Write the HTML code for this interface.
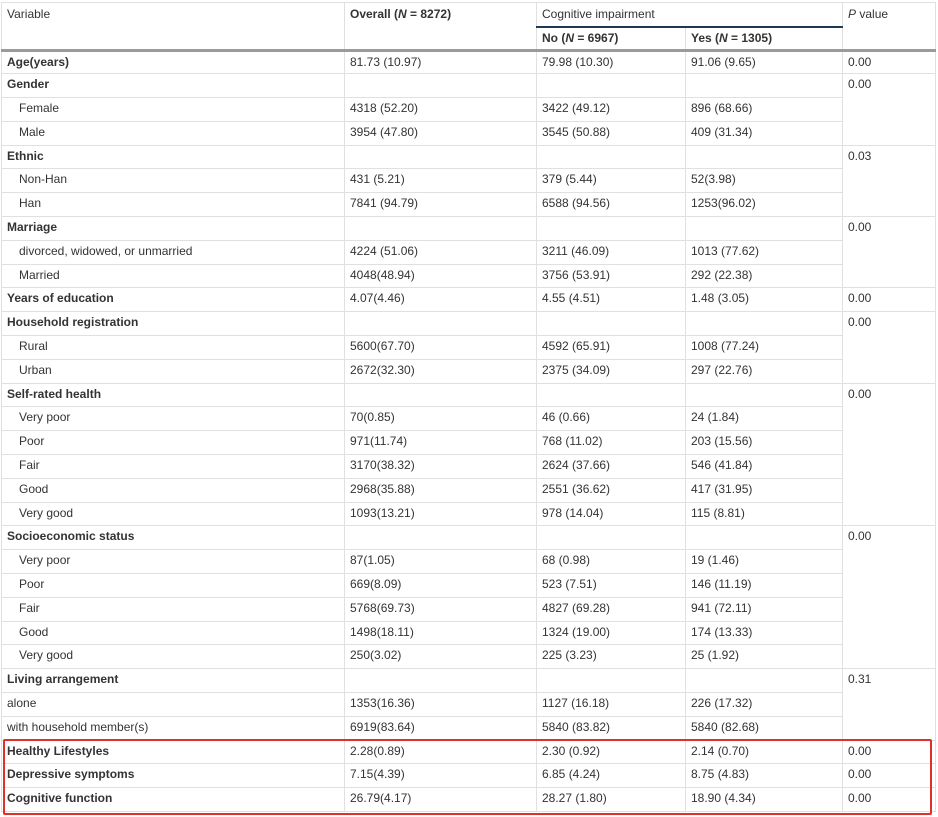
<!DOCTYPE html>
<html><head><meta charset="utf-8"><style>
body{margin:0;background:#fff;width:938px;height:817px;overflow:hidden;position:relative;font-family:"Liberation Sans",Arial,sans-serif;font-size:12px;color:#333}
table{position:absolute;left:1px;top:2px;border-collapse:collapse;table-layout:fixed;width:934px;border:1px solid #d4d4d4;border-bottom:none}
td,th{border:1px solid #e0e0e0;padding:0 0 0 5px;text-align:left;vertical-align:top;white-space:nowrap;overflow:hidden;line-height:23px;box-sizing:border-box}
th{font-weight:normal}
thead tr.h1 th{height:24px;line-height:22px}
thead tr.h2 th{font-weight:bold;height:22px;line-height:21px}
thead{border-bottom:3px solid #9a9a9a}
th.cog{border-bottom:2px solid #1e3956}
tbody tr{height:23.8px}
tbody td{height:23.8px;line-height:19px;padding-top:1px}
td.b{font-weight:bold}
td.i{padding-left:17px}
#red{position:absolute;left:3px;top:739px;width:925px;height:72px;border:2px solid #e0302a;border-radius:2px}
</style></head><body>
<table>
<colgroup><col style="width:343px"><col style="width:192px"><col style="width:149px"><col style="width:157px"><col style="width:93px"></colgroup>
<thead>
<tr class="h1"><th rowspan="2">Variable</th><th rowspan="2"><b>Overall (<i>N</i> = 8272)</b></th><th colspan="2" class="cog">Cognitive impairment</th><th rowspan="2"><i>P</i> value</th></tr>
<tr class="h2"><th>No (<i>N</i> = 6967)</th><th>Yes (<i>N</i> = 1305)</th></tr>
</thead>
<tbody>
<tr><td class="b">Age(years)</td><td>81.73 (10.97)</td><td>79.98 (10.30)</td><td>91.06 (9.65)</td><td>0.00</td></tr>
<tr><td class="b">Gender</td><td></td><td></td><td></td><td rowspan="3">0.00</td></tr>
<tr><td class="i">Female</td><td>4318 (52.20)</td><td>3422 (49.12)</td><td>896 (68.66)</td></tr>
<tr><td class="i">Male</td><td>3954 (47.80)</td><td>3545 (50.88)</td><td>409 (31.34)</td></tr>
<tr><td class="b">Ethnic</td><td></td><td></td><td></td><td rowspan="3">0.03</td></tr>
<tr><td class="i">Non-Han</td><td>431 (5.21)</td><td>379 (5.44)</td><td>52(3.98)</td></tr>
<tr><td class="i">Han</td><td>7841 (94.79)</td><td>6588 (94.56)</td><td>1253(96.02)</td></tr>
<tr><td class="b">Marriage</td><td></td><td></td><td></td><td rowspan="3">0.00</td></tr>
<tr><td class="i">divorced, widowed, or unmarried</td><td>4224 (51.06)</td><td>3211 (46.09)</td><td>1013 (77.62)</td></tr>
<tr><td class="i">Married</td><td>4048(48.94)</td><td>3756 (53.91)</td><td>292 (22.38)</td></tr>
<tr><td class="b">Years of education</td><td>4.07(4.46)</td><td>4.55 (4.51)</td><td>1.48 (3.05)</td><td>0.00</td></tr>
<tr><td class="b">Household registration</td><td></td><td></td><td></td><td rowspan="3">0.00</td></tr>
<tr><td class="i">Rural</td><td>5600(67.70)</td><td>4592 (65.91)</td><td>1008 (77.24)</td></tr>
<tr><td class="i">Urban</td><td>2672(32.30)</td><td>2375 (34.09)</td><td>297 (22.76)</td></tr>
<tr><td class="b">Self-rated health</td><td></td><td></td><td></td><td rowspan="6">0.00</td></tr>
<tr><td class="i">Very poor</td><td>70(0.85)</td><td>46 (0.66)</td><td>24 (1.84)</td></tr>
<tr><td class="i">Poor</td><td>971(11.74)</td><td>768 (11.02)</td><td>203 (15.56)</td></tr>
<tr><td class="i">Fair</td><td>3170(38.32)</td><td>2624 (37.66)</td><td>546 (41.84)</td></tr>
<tr><td class="i">Good</td><td>2968(35.88)</td><td>2551 (36.62)</td><td>417 (31.95)</td></tr>
<tr><td class="i">Very good</td><td>1093(13.21)</td><td>978 (14.04)</td><td>115 (8.81)</td></tr>
<tr><td class="b">Socioeconomic status</td><td></td><td></td><td></td><td rowspan="6">0.00</td></tr>
<tr><td class="i">Very poor</td><td>87(1.05)</td><td>68 (0.98)</td><td>19 (1.46)</td></tr>
<tr><td class="i">Poor</td><td>669(8.09)</td><td>523 (7.51)</td><td>146 (11.19)</td></tr>
<tr><td class="i">Fair</td><td>5768(69.73)</td><td>4827 (69.28)</td><td>941 (72.11)</td></tr>
<tr><td class="i">Good</td><td>1498(18.11)</td><td>1324 (19.00)</td><td>174 (13.33)</td></tr>
<tr><td class="i">Very good</td><td>250(3.02)</td><td>225 (3.23)</td><td>25 (1.92)</td></tr>
<tr><td class="b">Living arrangement</td><td></td><td></td><td></td><td rowspan="3">0.31</td></tr>
<tr><td>alone</td><td>1353(16.36)</td><td>1127 (16.18)</td><td>226 (17.32)</td></tr>
<tr><td>with household member(s)</td><td>6919(83.64)</td><td>5840 (83.82)</td><td>5840 (82.68)</td></tr>
<tr><td class="b">Healthy Lifestyles</td><td>2.28(0.89)</td><td>2.30 (0.92)</td><td>2.14 (0.70)</td><td>0.00</td></tr>
<tr><td class="b">Depressive symptoms</td><td>7.15(4.39)</td><td>6.85 (4.24)</td><td>8.75 (4.83)</td><td>0.00</td></tr>
<tr><td class="b">Cognitive function</td><td>26.79(4.17)</td><td>28.27 (1.80)</td><td>18.90 (4.34)</td><td>0.00</td></tr>
</tbody>
</table>
<div id="red"></div>
</body></html>
